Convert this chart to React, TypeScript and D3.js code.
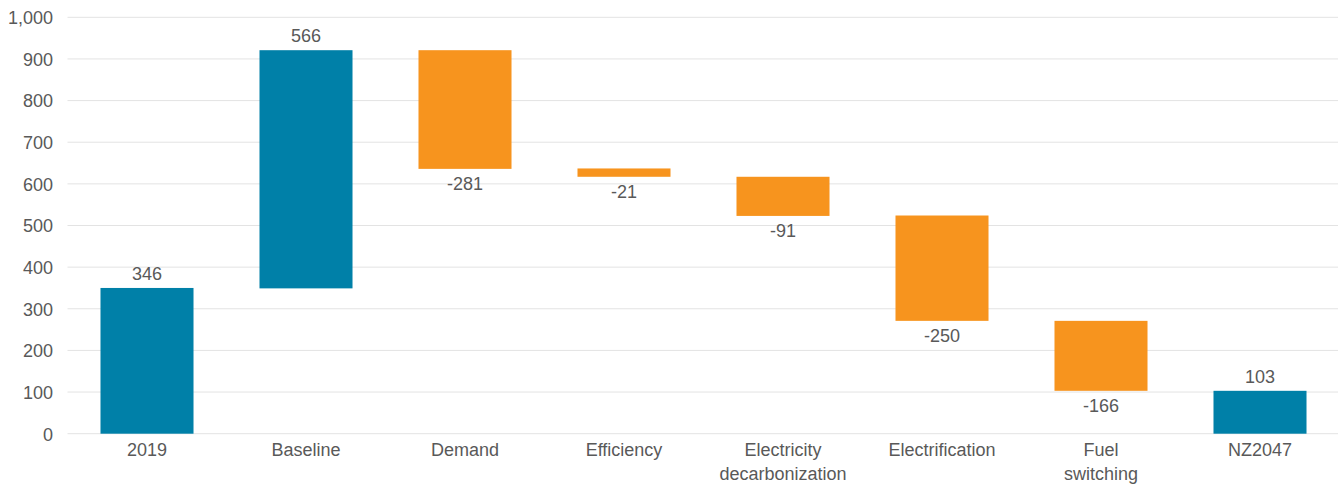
import React from "react";
import * as d3 from "d3";

const categories = ["2019", "Baseline", "Demand", "Efficiency", "Electricity\ndecarbonization", "Electrification", "Fuel\nswitching", "NZ2047"];
const barStart = [0, 349, 921, 637, 617, 524, 271, 0];
const barEnd = [350, 921, 636, 617, 523, 271, 103, 103];
const labels = ["346", "566", "-281", "-21", "-91", "-250", "-166", "103"];
const isTotal = [true, true, false, false, false, false, false, true];
const yTicks = [0, 100, 200, 300, 400, 500, 600, 700, 800, 900, 1000];

const W = 1341;
const H = 486;
const left = 67.5;
const right = 1339.5;
const top = 17.3;
const bottom = 433.7;
const TEAL = "#0080A8";
const ORANGE = "#F7941E";
const TEXT = "#595959";
const FONT = "'Liberation Sans', Arial, sans-serif";

export default function App() {
  const x = d3.scaleBand<string>().domain(categories).range([left, right]).paddingInner(0.415).paddingOuter(0.2075);
  const y = d3.scaleLinear().domain([0, 1000]).range([bottom, top]);
  const fmt = d3.format(",");
  return (
    <svg width={W} height={H} style={{ position: "absolute", left: 0, top: 0, display: "block" }} fontFamily={FONT}>
      {yTicks.map((t) => (
        <g key={t}>
          <line x1={left} x2={right - 1.5} y1={y(t)} y2={y(t)} stroke="#e3e3e3" strokeWidth={1} />
          <text x={53} y={y(t) + 6.8} textAnchor="end" fontSize={18} fill={TEXT}>
            {fmt(t)}
          </text>
        </g>
      ))}
      {categories.map((c, i) => {
        const y0 = y(Math.max(barStart[i], barEnd[i]));
        const y1 = y(Math.min(barStart[i], barEnd[i]));
        const bx = x(c)!;
        const cx = bx + x.bandwidth() / 2;
        const neg = !isTotal[i];
        return (
          <g key={c}>
            <rect x={bx} y={y0} width={x.bandwidth()} height={y1 - y0} fill={isTotal[i] ? TEAL : ORANGE} />
            <text x={cx} y={neg ? y1 + 21.5 : y0 - 8} textAnchor="middle" fontSize={18} fill={TEXT}>
              {labels[i]}
            </text>
            {c.split("\n").map((line, k) => (
              <text key={k} x={cx} y={456 + k * 24} textAnchor="middle" fontSize={18} fill={TEXT}>
                {line}
              </text>
            ))}
          </g>
        );
      })}
    </svg>
  );
}
